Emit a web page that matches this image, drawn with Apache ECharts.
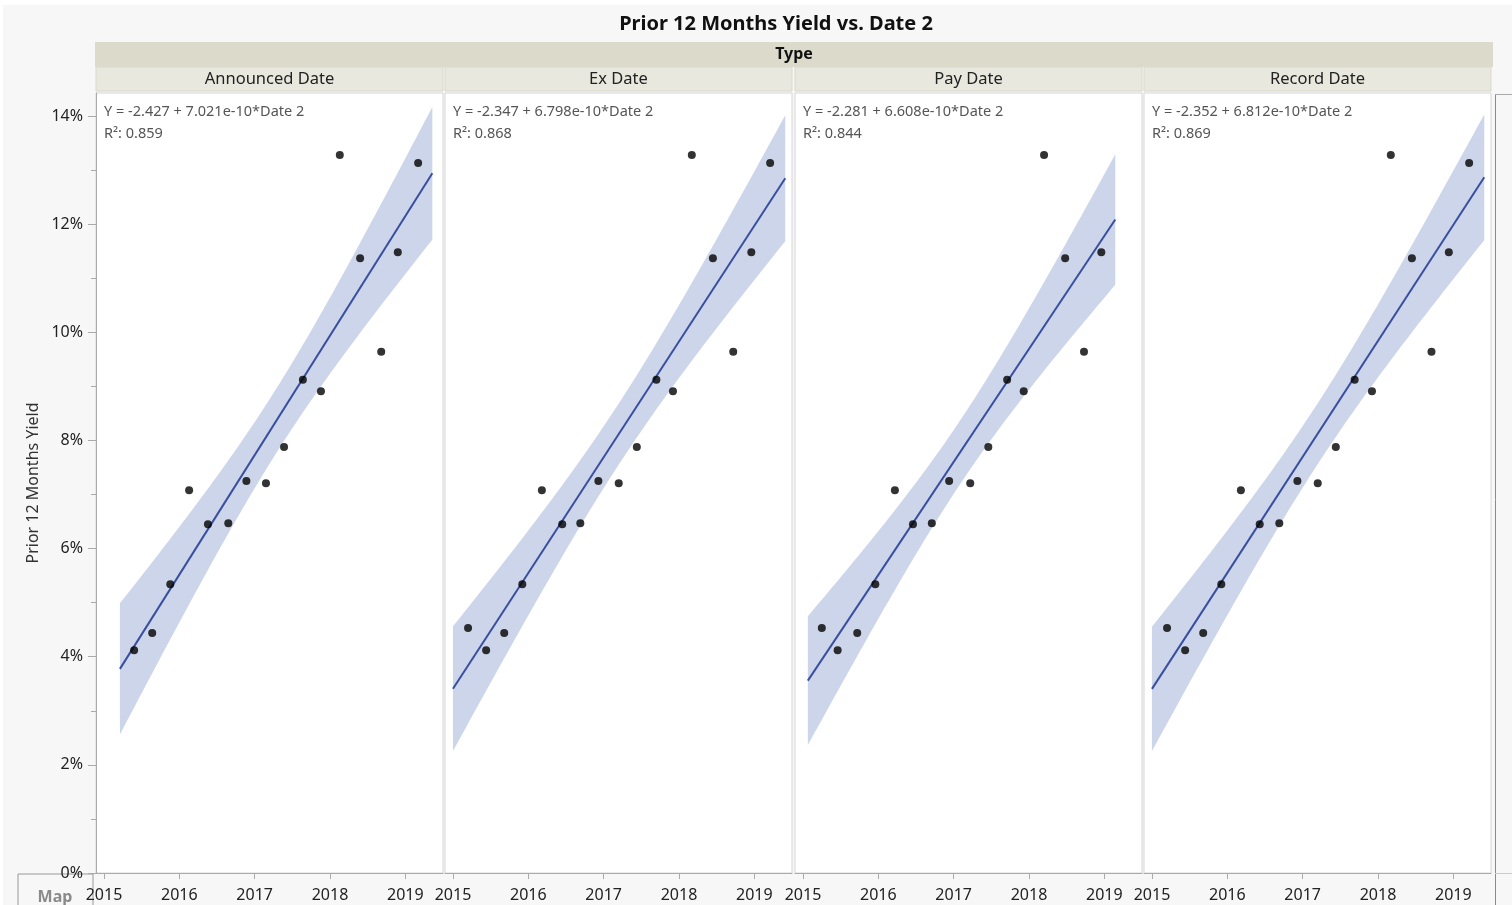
<!DOCTYPE html>
<html><head><meta charset="utf-8">
<script src="https://cdn.jsdelivr.net/npm/echarts@6/dist/echarts.min.js"></script>
<style>html,body{margin:0;padding:0;background:#fff}#c{width:1512px;height:905px}</style>
</head><body><div id="c"></div>
<script>
// ---------------- data ----------------
const chartTitle = 'Prior 12 Months Yield vs. Date 2';
const groupTitle = 'Type';
const yAxisTitle = 'Prior 12 Months Yield';
const panelNames = ['Announced Date', 'Ex Date', 'Pay Date', 'Record Date'];
const equations = [
  'Y = -2.427 + 7.021e-10*Date 2',
  'Y = -2.347 + 6.798e-10*Date 2',
  'Y = -2.281 + 6.608e-10*Date 2',
  'Y = -2.352 + 6.812e-10*Date 2'
];
const rSquared = ['0.859', '0.868', '0.844', '0.869'];
// yield in percent, one value per dividend (same for all date types)
const yieldPct = [4.53, 4.12, 4.44, 5.34, 7.08, 6.45, 6.47, 7.25, 7.21, 7.88, 9.12, 8.91, 13.28, 11.37, 9.64, 11.48, 13.13];
// dates as decimal years; null = missing
const announcedDate = [null, 2015.40, 2015.64, 2015.88, 2016.13, 2016.38, 2016.65, 2016.89, 2017.15, 2017.39, 2017.64, 2017.88, 2018.13, 2018.40, 2018.68, 2018.90, 2019.17];
const exDate        = [2015.20, 2015.44, 2015.68, 2015.92, 2016.18, 2016.45, 2016.69, 2016.93, 2017.20, 2017.44, 2017.70, 2017.92, 2018.17, 2018.45, 2018.72, 2018.96, 2019.21];
const payDate       = [2015.25, 2015.46, 2015.72, 2015.96, 2016.22, 2016.46, 2016.71, 2016.94, 2017.22, 2017.46, 2017.71, 2017.93, 2018.20, 2018.48, 2018.73, 2018.96, null];
const recordDate    = [2015.20, 2015.44, 2015.68, 2015.92, 2016.18, 2016.43, 2016.69, 2016.93, 2017.20, 2017.44, 2017.69, 2017.92, 2018.17, 2018.45, 2018.71, 2018.94, 2019.21];
const yearTicks = [2015, 2016, 2017, 2018, 2019];
const yMajorTicks = [0, 2, 4, 6, 8, 10, 12, 14];
const yMinorTicks = [1, 3, 5, 7, 9, 11, 13];

// ---------------- layout ----------------
const panelDates = [announcedDate, exDate, payDate, recordDate];
const gridLefts = [96, 445, 795, 1144];
const gridW = 347, gridTop = 93, gridH = 780;
const xMin = 2014.894, xMax = 2019.5, yMin = 0, yMax = 14.425;
const FONT = 'Noto Sans';
const t975 = {12: 2.179, 13: 2.160, 14: 2.145, 15: 2.131, 16: 2.120};

function fitLine(xs, ys) {
  const n = xs.length;
  const xbar = xs.reduce((a, b) => a + b, 0) / n;
  const ybar = ys.reduce((a, b) => a + b, 0) / n;
  let sxx = 0, sxy = 0;
  for (let i = 0; i < n; i++) { sxx += (xs[i] - xbar) ** 2; sxy += (xs[i] - xbar) * (ys[i] - ybar); }
  const b = sxy / sxx, a = ybar - b * xbar;
  let sse = 0;
  for (let i = 0; i < n; i++) sse += (ys[i] - a - b * xs[i]) ** 2;
  const s = Math.sqrt(sse / (n - 2));
  const lo = Math.min(...xs), hi = Math.max(...xs);
  const ext = (hi - lo) * 0.05;
  return {n, xbar, sxx, a, b, s, t: t975[n - 2], x0: lo - ext, x1: hi + ext};
}

const grids = [], xAxes = [], yAxes = [], series = [], graphics = [];

graphics.push({type: 'rect', shape: {x: 0, y: 0, width: 1512, height: 5}, style: {fill: '#fff'}, silent: true});
graphics.push({type: 'rect', shape: {x: 0, y: 0, width: 3, height: 905}, style: {fill: '#fff'}, silent: true});
graphics.push({type: 'text', x: 776, y: 24, style: {text: chartTitle, font: 'bold 20px "' + FONT + '"', fill: '#111', textAlign: 'center', textVerticalAlign: 'middle'}});
graphics.push({type: 'rect', shape: {x: 95, y: 42, width: 1398, height: 25}, style: {fill: '#dcdacb'}});
graphics.push({type: 'text', x: 794, y: 54, style: {text: groupTitle, font: 'bold 16px "' + FONT + '"', fill: '#111', textAlign: 'center', textVerticalAlign: 'middle'}});

panelDates.forEach((dates, i) => {
  const pts = [];
  dates.forEach((d, k) => { if (d !== null) pts.push([d, yieldPct[k]]); });
  const f = fitLine(pts.map(p => p[0]), pts.map(p => p[1]));
  grids.push({left: gridLefts[i], top: gridTop, width: gridW, height: gridH, show: true, backgroundColor: '#fff', borderColor: '#d6d6d6', borderWidth: 1});
  xAxes.push({
    gridIndex: i, type: 'value', min: xMin, max: xMax,
    axisLine: {show: true, onZero: false, lineStyle: {color: '#aaa'}},
    axisTick: {show: true, customValues: yearTicks, length: 6, lineStyle: {color: '#aaa'}},
    axisLabel: {customValues: yearTicks, fontSize: 16, fontFamily: FONT, color: '#222', margin: 14, formatter: v => String(Math.round(v))},
    splitLine: {show: false}
  });
  yAxes.push({
    gridIndex: i, type: 'value', min: yMin, max: yMax, show: i === 0,
    name: i === 0 ? yAxisTitle : '', nameLocation: 'middle', nameGap: 55, nameRotate: 90,
    nameTextStyle: {fontSize: 16, fontFamily: FONT, color: '#333'},
    axisLine: {show: true, lineStyle: {color: '#aaa'}},
    axisTick: {show: true, customValues: yMajorTicks, length: 8, lineStyle: {color: '#aaa'}},
    axisLabel: {customValues: yMajorTicks, fontSize: 16, fontFamily: FONT, color: '#222', margin: 13, formatter: v => Math.round(v) + '%'},
    splitLine: {show: false}
  });
  // confidence band
  series.push({
    type: 'custom', xAxisIndex: i, yAxisIndex: i, silent: true, z: 1,
    data: [[f.xbar, f.a + f.b * f.xbar]],
    renderItem: (params, api) => {
      const N = 80, up = [], dn = [];
      for (let k = 0; k <= N; k++) {
        const x = f.x0 + (f.x1 - f.x0) * k / N;
        const yh = f.a + f.b * x;
        const hw = f.t * f.s * Math.sqrt(1 / f.n + (x - f.xbar) ** 2 / f.sxx);
        up.push(api.coord([x, yh + hw]));
        dn.push(api.coord([x, yh - hw]));
      }
      return {type: 'polygon', shape: {points: up.concat(dn.reverse())}, style: {fill: '#ccd5ea'}};
    }
  });
  series.push({
    type: 'line', xAxisIndex: i, yAxisIndex: i, silent: true, z: 2, showSymbol: false,
    data: [[f.x0, f.a + f.b * f.x0], [f.x1, f.a + f.b * f.x1]],
    lineStyle: {color: '#3a4ea0', width: 2}
  });
  series.push({
    type: 'scatter', xAxisIndex: i, yAxisIndex: i, z: 3, data: pts,
    symbolSize: 8, itemStyle: {color: '#000'}
  });
  graphics.push({type: 'rect', shape: {x: gridLefts[i], y: 67, width: gridW, height: 24}, style: {fill: '#e9e8de', stroke: '#d9d8cb', lineWidth: 1}});
  graphics.push({type: 'text', x: gridLefts[i] + gridW / 2, y: 79, style: {text: panelNames[i], font: '16.5px "' + FONT + '"', fill: '#222', textAlign: 'center', textVerticalAlign: 'middle'}});
  graphics.push({type: 'text', x: gridLefts[i] + 8, y: 112, z: 10, style: {text: equations[i], font: '14.5px "' + FONT + '"', fill: '#555', textVerticalAlign: 'middle'}});
  graphics.push({type: 'text', x: gridLefts[i] + 8, y: 134, z: 10, style: {text: 'R²: ' + rSquared[i], font: '14.5px "' + FONT + '"', fill: '#555', textVerticalAlign: 'middle'}});
});

// minor ticks on the first y axis
yAxes.push({
  gridIndex: 0, type: 'value', min: yMin, max: yMax, position: 'left',
  axisLine: {show: false}, axisLabel: {show: false}, splitLine: {show: false},
  axisTick: {show: true, customValues: yMinorTicks, length: 5, lineStyle: {color: '#aaa'}}
});

// Map box and right edge
graphics.push({type: 'rect', z: -1, shape: {x: 18, y: 874, width: 75, height: 40}, style: {fill: '#f7f7f7', stroke: '#999', lineWidth: 1}});
graphics.push({type: 'text', x: 55, y: 897, style: {text: 'Map', font: 'bold 16px "' + FONT + '"', fill: '#8a8a8a', textAlign: 'center', textVerticalAlign: 'middle'}});
graphics.push({type: 'line', shape: {x1: 1495.5, y1: 94, x2: 1495.5, y2: 905}, style: {stroke: '#8a8a8a', lineWidth: 1}});
graphics.push({type: 'line', shape: {x1: 1495, y1: 94.5, x2: 1512, y2: 94.5}, style: {stroke: '#aaa', lineWidth: 1}});
graphics.push({type: 'line', shape: {x1: 1495, y1: 873.5, x2: 1512, y2: 873.5}, style: {stroke: '#ccc', lineWidth: 1}});

const chart = echarts.init(document.getElementById('c'), null, {renderer: 'canvas'});
chart.setOption({
  backgroundColor: '#f7f7f7',
  animation: false,
  grid: grids, xAxis: xAxes, yAxis: yAxes, series: series,
  graphic: graphics
});
</script></body></html>
